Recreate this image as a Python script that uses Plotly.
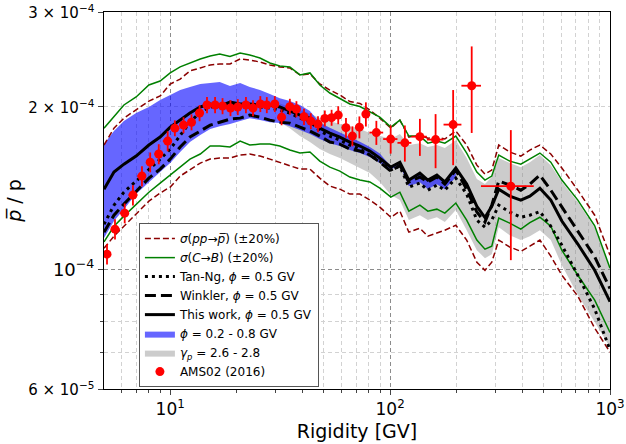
import numpy as np
import plotly.graph_objects as go

SCALE = 1e-4  # ratios below are in units of 1e-4

rigidity = [5.0, 5.55, 6.16, 7.0, 8.0, 9.0, 10.0, 11.1, 12.3, 13.7,
            15.2, 16.8, 18.7, 20.8, 23.0, 25.6, 28.4, 31.5, 35.0, 38.9,
            43.2, 47.9, 53.2, 59.1, 65.6, 72.9, 80.9, 89.8, 100.8, 110.8,
            121.7, 136.6, 148.5, 163.2, 177.4, 199, 223, 248, 270, 290,
            312, 350, 393, 432, 480, 538, 604, 714, 852, 1000]

sigma_pp_up = [1.700, 1.827, 1.907, 1.974, 2.051, 2.096, 2.206, 2.253, 2.333, 2.363,
               2.393, 2.403, 2.403, 2.455, 2.444, 2.423, 2.393, 2.373, 2.363, 2.293,
               2.303, 2.206, 2.150, 2.105, 2.047, 2.030, 1.974, 1.907, 1.827, 1.891,
               1.759, 1.774, 1.751, 1.759, 1.744, 1.805, 1.700, 1.560, 1.502, 1.528,
               1.700, 1.650, 1.622, 1.664, 1.700, 1.636, 1.541, 1.402, 1.260, 1.062]
sigma_pp_lo = [1.094, 1.152, 1.202, 1.266, 1.338, 1.385, 1.421, 1.489, 1.528, 1.574,
               1.601, 1.608, 1.608, 1.629, 1.636, 1.622, 1.601, 1.580, 1.560, 1.534,
               1.534, 1.476, 1.427, 1.408, 1.379, 1.379, 1.344, 1.304, 1.249, 1.282,
               1.172, 1.192, 1.152, 1.167, 1.182, 1.207, 1.133, 1.031, 0.996, 1.031,
               1.133, 1.100, 1.080, 1.104, 1.133, 1.058, 0.975, 0.892, 0.778, 0.702]
sigma_cb_up = [1.827, 1.924, 2.017, 2.087, 2.197, 2.234, 2.313, 2.373, 2.413, 2.455,
               2.487, 2.508, 2.481, 2.518, 2.497, 2.465, 2.413, 2.383, 2.373, 2.293,
               2.313, 2.197, 2.123, 2.077, 2.026, 2.004, 1.957, 1.915, 1.835, 1.891,
               1.766, 1.766, 1.714, 1.729, 1.714, 1.766, 1.643, 1.515, 1.464, 1.489,
               1.629, 1.587, 1.567, 1.601, 1.643, 1.580, 1.464, 1.344, 1.204, 1.005]
sigma_cb_lo = [1.124, 1.202, 1.255, 1.321, 1.390, 1.445, 1.495, 1.547, 1.601, 1.636,
               1.693, 1.693, 1.686, 1.729, 1.700, 1.707, 1.707, 1.693, 1.664, 1.643,
               1.650, 1.587, 1.547, 1.521, 1.483, 1.464, 1.452, 1.414, 1.361, 1.390,
               1.282, 1.315, 1.282, 1.293, 1.271, 1.327, 1.234, 1.133, 1.090, 1.104,
               1.245, 1.218, 1.187, 1.221, 1.249, 1.202, 1.085, 0.975, 0.877, 0.764]
tan_ng = [1.212, 1.315, 1.390, 1.458, 1.528, 1.600, 1.671, 1.774, 1.874, 1.957,
          2.000, 2.008, 2.017, 2.008, 2.000, 2.000, 1.991, 1.974, 1.949, 1.907,
          1.883, 1.805, 1.766, 1.736, 1.700, 1.671, 1.629, 1.587, 1.528, 1.554,
          1.421, 1.445, 1.402, 1.433, 1.402, 1.476, 1.379, 1.234, 1.197, 1.234,
          1.315, 1.277, 1.249, 1.260, 1.280, 1.202, 1.109, 0.975, 0.844, 0.709]
winkler = [1.172, 1.260, 1.321, 1.396, 1.476, 1.534, 1.601, 1.686, 1.759, 1.805,
           1.851, 1.874, 1.899, 1.907, 1.932, 1.915, 1.891, 1.874, 1.867, 1.835,
           1.805, 1.766, 1.722, 1.707, 1.671, 1.657, 1.629, 1.580, 1.521, 1.560,
           1.452, 1.483, 1.452, 1.483, 1.439, 1.528, 1.408, 1.277, 1.224, 1.315,
           1.458, 1.433, 1.402, 1.439, 1.495, 1.402, 1.304, 1.172, 1.055, 0.921]
this_work = [1.408, 1.515, 1.567, 1.622, 1.700, 1.759, 1.835, 1.891, 1.949, 2.000,
             2.026, 2.008, 2.043, 2.026, 2.026, 2.017, 2.017, 2.000, 1.966, 1.932,
             1.907, 1.827, 1.789, 1.759, 1.722, 1.693, 1.657, 1.608, 1.547, 1.580,
             1.464, 1.508, 1.464, 1.495, 1.452, 1.541, 1.439, 1.309, 1.247, 1.309,
             1.408, 1.367, 1.344, 1.367, 1.414, 1.344, 1.229, 1.114, 0.996, 0.871]

# phi = 0.2 - 0.8 GV band (first 36 rigidity nodes)
phi_band_up = [1.707, 1.805, 1.883, 1.949, 2.000, 2.060, 2.105, 2.150, 2.178, 2.206,
               2.215, 2.225, 2.187, 2.215, 2.178, 2.150, 2.114, 2.077, 2.051, 2.017,
               1.966, 1.870, 1.830, 1.795, 1.757, 1.725, 1.685, 1.640, 1.552, 1.585,
               1.469, 1.513, 1.469, 1.500, 1.457, 1.546]
phi_band_lo = [1.143, 1.229, 1.293, 1.379, 1.452, 1.515, 1.574, 1.650, 1.722, 1.774,
               1.820, 1.843, 1.859, 1.883, 1.907, 1.891, 1.874, 1.867, 1.843, 1.812,
               1.782, 1.744, 1.714, 1.693, 1.664, 1.643, 1.615, 1.574, 1.533, 1.559,
               1.426, 1.450, 1.407, 1.438, 1.407, 1.481]
# gamma_p = 2.6 - 2.8 band (rigidity nodes from index 17 on)
gamma_band_up = [2.030, 2.000, 1.970, 1.945, 1.907, 1.883, 1.859, 1.843, 1.820, 1.789,
                 1.766, 1.744, 1.782, 1.700, 1.714, 1.686, 1.700, 1.679, 1.736, 1.608,
                 1.470, 1.439, 1.483, 1.608, 1.574, 1.547, 1.580, 1.629, 1.560, 1.452,
                 1.333, 1.194, 1.000]
gamma_band_lo = [1.874, 1.827, 1.766, 1.722, 1.671, 1.636, 1.608, 1.574, 1.541, 1.508,
                 1.452, 1.373, 1.344, 1.234, 1.260, 1.234, 1.249, 1.224, 1.288, 1.182,
                 1.085, 1.049, 1.067, 1.197, 1.157, 1.133, 1.152, 1.182, 1.133, 1.018,
                 0.896, 0.799, 0.717]
PHI_N = len(phi_band_up)
GAMMA_START = len(rigidity) - len(gamma_band_up)

# AMS-02 (2016)
ams_R = [5.16, 5.61, 6.21, 6.77, 7.44, 8.11, 8.87, 9.74, 10.5, 11.5,
         12.5, 13.6, 14.7, 16.0, 17.3, 18.8, 20.3, 22.1, 23.8, 25.7,
         27.5, 29.9, 32.1, 35.0, 37.5, 40.6, 43.6, 47.0, 50.5, 54.2,
         58.1, 63.0, 67.4, 72.5, 77.6, 86.6, 100.6, 116.7, 136.6, 161,
         193.5, 235, 354]
ams_ratio = [1.067, 1.187, 1.271, 1.373, 1.489, 1.580, 1.636, 1.729, 1.827, 1.851,
             1.874, 1.949, 2.017, 2.017, 2.008, 1.991, 2.000, 2.017, 1.991, 2.026,
             2.017, 2.026, 1.915, 2.003, 1.982, 1.918, 1.883, 1.859, 1.905, 1.911,
             1.932, 1.831, 1.766, 1.835, 1.940, 1.793, 1.744, 1.716, 1.762, 1.740,
             1.855, 2.190, 1.426]
ams_err = [0.046, 0.051, 0.054, 0.059, 0.064, 0.067, 0.070, 0.074, 0.062, 0.063,
           0.064, 0.067, 0.069, 0.069, 0.069, 0.068, 0.068, 0.069, 0.068, 0.069,
           0.069, 0.069, 0.065, 0.068, 0.068, 0.066, 0.064, 0.064, 0.065, 0.065,
           0.074, 0.078, 0.075, 0.086, 0.100, 0.092, 0.105, 0.132, 0.139, 0.200,
           0.295, 0.400, 0.386]
ams_bin_lo = [4.88, 5.37, 5.9, 6.47, 7.09, 7.76, 8.48, 9.26, 10.1, 11.0,
              12.0, 13.0, 14.1, 15.3, 16.6, 18.0, 19.5, 21.1, 22.8, 24.7,
              26.7, 28.8, 31.1, 33.5, 36.1, 38.9, 41.9, 45.1, 48.5, 52.2,
              56.1, 60.3, 64.8, 69.7, 74.9, 80.5, 93.0, 108, 125, 147,
              175, 211, 259]
ams_bin_hi = ams_bin_lo[1:] + [450]

x_major = [10, 100, 1000]
x_major_text = ['10<sup>1</sup>', '10<sup>2</sup>', '10<sup>3</sup>']
x_minor = [6, 7, 8, 9, 20, 30, 40, 50, 60, 70, 80, 90, 200, 300, 400, 500, 600, 700, 800, 900]
y_major = [6e-5, 1e-4, 2e-4, 3e-4]
small = '<span style="font-size:15px">{}</span>'
y_major_text = [small.format('6 × 10<sup>−5</sup>'), '10<sup>−4</sup>',
                small.format('2 × 10<sup>−4</sup>'), small.format('3 × 10<sup>−4</sup>')]
y_minor = [7e-5, 8e-5, 9e-5]

R = np.array(rigidity)
s = lambda a: np.array(a) * SCALE

fig = go.Figure()

# gamma band
gx = R[GAMMA_START:]
fig.add_trace(go.Scatter(
    x=np.concatenate([gx, gx[::-1]]),
    y=np.concatenate([s(gamma_band_up), s(gamma_band_lo)[::-1]]),
    fill='toself', fillcolor='rgba(128,128,128,0.4)', line=dict(width=0),
    mode='lines', name='<i>γ<sub>p</sub></i> = 2.6 - 2.8', legendrank=7, hoverinfo='skip'))
# phi band
px_ = R[:PHI_N]
fig.add_trace(go.Scatter(
    x=np.concatenate([px_, px_[::-1]]),
    y=np.concatenate([s(phi_band_up), s(phi_band_lo)[::-1]]),
    fill='toself', fillcolor='rgba(0,0,255,0.6)', line=dict(width=0),
    mode='lines', name='<i>ϕ</i> = 0.2 - 0.8 GV', legendrank=6, hoverinfo='skip'))

red_line = dict(color='#8b0000', width=1.5, dash='6px,3px')
fig.add_trace(go.Scatter(x=R, y=s(sigma_pp_up), mode='lines', line=red_line,
                         name='<i>σ</i>(<i>pp</i>→<i>p̅</i>) (±20%)', legendgroup='pp', legendrank=1))
fig.add_trace(go.Scatter(x=R, y=s(sigma_pp_lo), mode='lines', line=red_line,
                         legendgroup='pp', showlegend=False))
green_line = dict(color='#008000', width=1.5)
fig.add_trace(go.Scatter(x=R, y=s(sigma_cb_up), mode='lines', line=green_line,
                         name='<i>σ</i>(<i>C</i>→<i>B</i>) (±20%)', legendgroup='cb', legendrank=2))
fig.add_trace(go.Scatter(x=R, y=s(sigma_cb_lo), mode='lines', line=green_line,
                         legendgroup='cb', showlegend=False))
fig.add_trace(go.Scatter(x=R, y=s(tan_ng), mode='lines',
                         line=dict(color='black', width=3, dash='3px,4px'),
                         name='Tan-Ng, <i>ϕ</i> = 0.5 GV', legendrank=3))
fig.add_trace(go.Scatter(x=R, y=s(winkler), mode='lines',
                         line=dict(color='black', width=3, dash='11px,5px'),
                         name='Winkler, <i>ϕ</i> = 0.5 GV', legendrank=4))
fig.add_trace(go.Scatter(x=R, y=s(this_work), mode='lines',
                         line=dict(color='black', width=3),
                         name='This work, <i>ϕ</i> = 0.5 GV', legendrank=5))

aR = np.array(ams_R)
fig.add_trace(go.Scatter(
    x=aR, y=s(ams_ratio), mode='markers',
    marker=dict(color='red', size=9, symbol='circle'),
    error_y=dict(type='data', array=s(ams_err), color='red', thickness=1.8, width=0),
    error_x=dict(type='data', array=np.array(ams_bin_hi) - aR,
                 arrayminus=aR - np.array(ams_bin_lo), color='red', thickness=1.8, width=0),
    name='AMS02 (2016)', legendrank=8))

# empty trace to host the overlay axis carrying the darker major y grid line
fig.add_trace(go.Scatter(x=[], y=[], yaxis='y2', showlegend=False, hoverinfo='skip'))

major_grid = dict(showgrid=True, gridcolor='#8c8c8c', griddash='4px,3px', gridwidth=0.8)
minor_grid = dict(showgrid=True, gridcolor='#d2d2d2', griddash='4px,3px', gridwidth=0.8)

fig.update_layout(
    template='none',
    width=626, height=444,
    margin=dict(l=104, r=16, t=12, b=55, autoexpand=False),
    paper_bgcolor='white', plot_bgcolor='white',
    font=dict(family='DejaVu Sans', color='black', size=12),
    legend=dict(x=0.069, y=0.44, xanchor='left', yanchor='top', bgcolor='white',
                bordercolor='#555555', borderwidth=1, font=dict(size=12),
                traceorder='normal', tracegroupgap=0),
    xaxis=dict(type='log', range=[np.log10(5), 3], tickmode='array', tickvals=x_major,
               ticktext=x_major_text, tickfont=dict(size=17), ticks='outside', ticklen=5,
               showline=True, linecolor='black', linewidth=1, mirror=True, zeroline=False,
               automargin=False,
               minor=dict(tickmode='array', tickvals=x_minor, ticks='outside', ticklen=3,
                          **minor_grid),
               title=dict(text='Rigidity [GV]', font=dict(size=19), standoff=6),
               **major_grid),
    yaxis=dict(type='log', range=[np.log10(6e-5), np.log10(3e-4)], tickmode='array',
               tickvals=y_major, ticktext=y_major_text, tickfont=dict(size=18),
               ticks='outside', ticklen=5, showline=True, linecolor='black', linewidth=1,
               mirror=True, zeroline=False, automargin=False,
               minor=dict(tickmode='array', tickvals=y_minor, ticks='outside', ticklen=3,
                          **minor_grid),
               title=dict(text='<i>p̅</i> / p', font=dict(size=19), standoff=1),
               **minor_grid),
    yaxis2=dict(type='log', range=[np.log10(6e-5), np.log10(3e-4)], overlaying='y',
                side='left', anchor='x', tickmode='array', tickvals=[1e-4],
                showticklabels=False, ticks='', showline=False, zeroline=False,
                automargin=False, **major_grid),
)

fig.write_html('out.html', config={'displayModeBar': False},
               post_script="document.body.style.margin='0px';")
